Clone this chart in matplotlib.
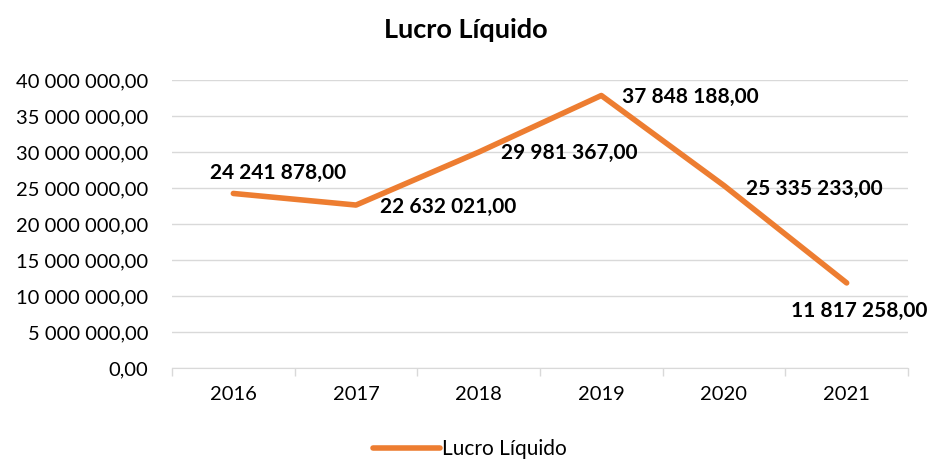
import numpy as np
from matplotlib import pyplot as plt
from matplotlib.ticker import FuncFormatter

anos = ['2016', '2017', '2018', '2019', '2020', '2021']
lucro = [24241878.00, 22632021.00, 29981367.00, 37848188.00, 25335233.00, 11817258.00]
# label offsets in pixels (dx, dy), excel-style placement
offs = [(-23, 20), (24, -2), (22, -1), (21, -1), (22, -3), (-56, -28)]

plt.rcParams['font.family'] = ['Lato', 'DejaVu Sans']


def fmt(v, pos=None):
    s = '{:,.2f}'.format(v)
    return s.replace(',', ' ').replace('.', ',')


fig = plt.figure(figsize=(9.29, 4.59), dpi=100)
ax = fig.add_axes([172 / 929, 1 - 368 / 459, 736 / 929, 288 / 459])

x = np.arange(len(anos))
ax.plot(x, lucro, color='#ED7D31', lw=4, solid_capstyle='round', label='Lucro Líquido')

for i, v in enumerate(lucro):
    ax.annotate(fmt(v), (x[i], v), xytext=offs[i], textcoords='offset pixels',
                fontsize=15, fontweight='bold', color='black', va='center', ha='left')

ax.set_xlim(-0.5, len(anos) - 0.5)
ax.set_ylim(0, 40000000)
ax.set_yticks(np.arange(0, 40000001, 5000000))
ax.yaxis.set_major_formatter(FuncFormatter(fmt))
ax.set_xticks(x)
ax.set_xticklabels(anos)
ax.set_xticks(np.arange(-0.5, len(anos), 1), minor=True)
ax.tick_params(axis='x', which='major', length=0, pad=13, labelsize=14.5)
ax.tick_params(axis='x', which='minor', length=6, color='#D9D9D9', width=1)
ax.tick_params(axis='y', length=0, pad=17, labelsize=14.5)
ax.grid(axis='y', color='#D9D9D9', lw=1)
ax.set_axisbelow(True)
for s in ['top', 'right', 'left']:
    ax.spines[s].set_visible(False)
ax.spines['bottom'].set_color('#D9D9D9')

fig.text(466 / 929, 1 - 30 / 459, 'Lucro Líquido', ha='center', va='center',
         fontsize=19.5, fontweight='bold')
fig.legend(loc='center', bbox_to_anchor=(470 / 929, 1 - 449 / 459), frameon=False,
           fontsize=15, handlelength=3.2, handletextpad=0.1)

fig.savefig('out.png', dpi=100)
